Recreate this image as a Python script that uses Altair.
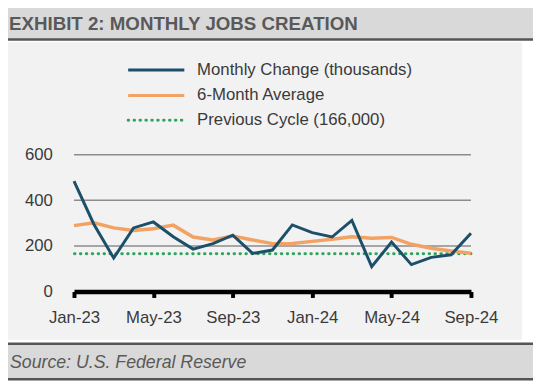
import altair as alt
import pandas as pd

# ---------------- data ----------------
months = ["Jan-23", "Feb-23", "Mar-23", "Apr-23", "May-23", "Jun-23", "Jul-23",
          "Aug-23", "Sep-23", "Oct-23", "Nov-23", "Dec-23", "Jan-24", "Feb-24",
          "Mar-24", "Apr-24", "May-24", "Jun-24", "Jul-24", "Aug-24", "Sep-24"]
monthly_change = [484, 295, 147, 279, 305, 240, 186, 210, 247, 167, 182, 292,
                  258, 239, 312, 109, 217, 118, 150, 161, 255]
six_month_avg = [289, 301, 279, 268, 275, 291, 239, 226, 243, 226, 210, 211,
                 220, 229, 240, 234, 237, 207, 190, 178, 168]
previous_cycle = 166
y_ticks = [0, 200, 400, 600]
grid_values = [200, 400, 600]
x_tick_labels = ["Jan-23", "May-23", "Sep-23", "Jan-24", "May-24", "Sep-24"]
series_names = ["Monthly Change (thousands)", "6-Month Average", "Previous Cycle (166,000)"]
title_text = "EXHIBIT 2: MONTHLY JOBS CREATION"
source_text = "Source: U.S. Federal Reserve"

# ---------------- layout ----------------
W, H = 403, 139
PL, PT, PR, PB = 67, 146, 63, 92
X0, Y0 = 75, 154  # page position of plot origin


def px(X):
    return X - X0


def py(Y):
    return Y - Y0


BLUE = "#1c4f69"
ORANGE = "#f2a262"
GREEN = "#2fa35e"
DARK = "#555555"
FONT = "Liberation Sans"

df = pd.DataFrame({"month": months, "monthly": monthly_change, "avg": six_month_avg})
one = pd.DataFrame({"k": [0]})
grid_df = pd.DataFrame({"g": grid_values})

y_scale = alt.Scale(domain=[0, 600], nice=False)
x_enc = alt.X(
    "month:O", sort=months, scale=alt.Scale(type="point", padding=0),
    axis=alt.Axis(values=x_tick_labels, title=None, labelAngle=0,
                  domainColor="black", domainWidth=4.5, tickColor="black",
                  tickWidth=4, tickSize=6, labelPadding=12, labelFont=FONT,
                  labelFontSize=17, labelColor="#3a3a3a", grid=False, zindex=1,
                  labelFlush=False),
)
y_axis = alt.Axis(values=y_ticks, title=None, domain=False, ticks=False, grid=False,
                  labelPadding=22, labelFont=FONT, labelFontSize=17,
                  labelColor="#3a3a3a", zindex=1)

layers = []

# panel background
layers.append(alt.Chart(one).mark_rect(color="#f2f2f2").encode(
    x=alt.value(px(8)), x2=alt.value(px(530)), y=alt.value(py(40)), y2=alt.value(py(342))))

# title bar
layers.append(alt.Chart(one).mark_rect(color="#d9d9d9").encode(
    x=alt.value(px(0)), x2=alt.value(px(541)), y=alt.value(py(1)), y2=alt.value(py(37))))
for yy in [1.5, 37]:
    layers.append(alt.Chart(one).mark_rule(color=DARK, strokeWidth=2.5).encode(
        x=alt.value(px(0)), x2=alt.value(px(541)), y=alt.value(py(yy))))
layers.append(alt.Chart(one).mark_text(
    align="left", baseline="alphabetic", font=FONT, fontSize=19, fontWeight="bold",
    color="#595959").encode(x=alt.value(px(9)), y=alt.value(py(27)), text=alt.value(title_text)))

# source bar
layers.append(alt.Chart(one).mark_rect(color="#d9d9d9").encode(
    x=alt.value(px(0)), x2=alt.value(px(541)), y=alt.value(py(346)), y2=alt.value(py(382))))
for yy in [346, 382]:
    layers.append(alt.Chart(one).mark_rule(color=DARK, strokeWidth=2.5).encode(
        x=alt.value(px(0)), x2=alt.value(px(541)), y=alt.value(py(yy))))
layers.append(alt.Chart(one).mark_text(
    align="left", baseline="alphabetic", font=FONT, fontSize=18, fontStyle="italic",
    color="#595959").encode(x=alt.value(px(10)), y=alt.value(py(371)), text=alt.value(source_text)))

# gridlines
layers.append(alt.Chart(grid_df).mark_rule(color="#8c8c8c", strokeWidth=1.5).encode(
    y=alt.Y("g:Q", scale=y_scale, axis=y_axis)))

# previous cycle dotted
layers.append(alt.Chart(one).mark_rule(color=GREEN, strokeWidth=3, strokeDash=[0.5, 5.5],
                                       strokeCap="round").encode(
    y=alt.datum(previous_cycle, scale=y_scale)))

# lines
layers.append(alt.Chart(df).mark_line(color=ORANGE, strokeWidth=3.5).encode(
    x=x_enc, y=alt.Y("avg:Q", scale=y_scale, axis=y_axis)))
layers.append(alt.Chart(df).mark_line(color=BLUE, strokeWidth=3).encode(
    x=x_enc, y=alt.Y("monthly:Q", scale=y_scale, axis=y_axis)))

# legend
legend_rows = [(series_names[0], BLUE, None, 68), (series_names[1], ORANGE, None, 94),
               (series_names[2], GREEN, [0.5, 5.5], 119)]
for name, col, dash, yy in legend_rows:
    kw = dict(color=col, strokeWidth=3)
    if dash:
        kw.update(strokeDash=dash, strokeCap="round")
    layers.append(alt.Chart(one).mark_rule(**kw).encode(
        x=alt.value(px(130)), x2=alt.value(px(187)), y=alt.value(py(yy))))
    layers.append(alt.Chart(one).mark_text(
        align="left", baseline="middle", font=FONT, fontSize=17, color="#3a3a3a").encode(
        x=alt.value(px(200)), y=alt.value(py(yy)), text=alt.value(name)))

chart = alt.layer(*layers).properties(
    width=W, height=H,
    padding={"left": PL, "top": PT, "right": PR, "bottom": PB},
    autosize=alt.AutoSizeParams(type="none"),
).configure_view(stroke=None).configure(background="white")

chart.save("out.html", embed_options={"renderer": "svg", "actions": False})
